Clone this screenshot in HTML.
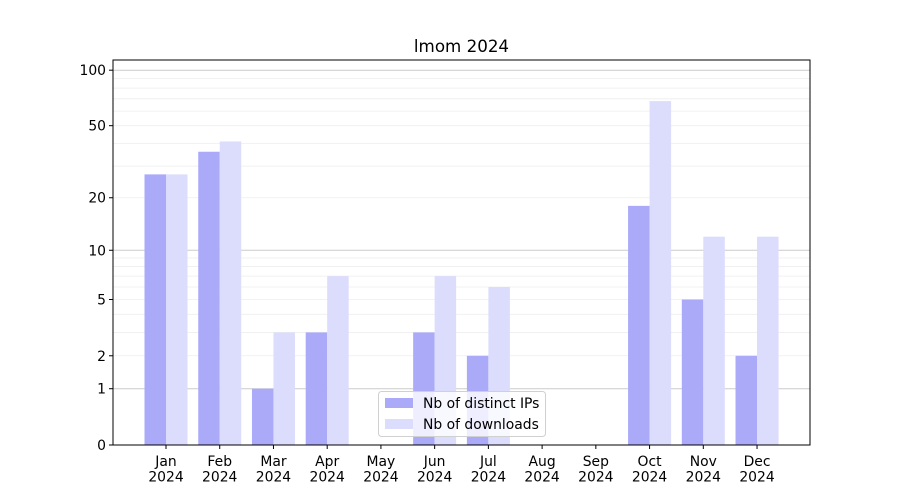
<!DOCTYPE html>
<html><head><meta charset="utf-8"><style>
body{margin:0;background:#fff;}
svg{display:block;font-family:"DejaVu Sans","Liberation Sans",sans-serif;}
</style></head><body>
<svg id="chart" width="900" height="500"></svg>
<script>
const months = ["Jan","Feb","Mar","Apr","May","Jun","Jul","Aug","Sep","Oct","Nov","Dec"];
const ipValues = [27,36,1,3,0,3,2,0,0,18,5,2];
const downloadValues = [27,41,3,7,0,7,6,0,0,68,12,12];
const tickValues = [0,1,2,5,10,20,50,100];
const minorGrid = [2,3,4,5,6,7,8,9,20,30,40,50,60,70,80,90];
const majorGrid = [1,10,100];

const NS="http://www.w3.org/2000/svg";
const svg=document.getElementById('chart');
const L=113,R=810,T=60,B=445;
function y(v){return B-187*Math.log10(v+1);}
function xc(i){return 166+i*53.73;}
function el(tag,attrs,parent){const e=document.createElementNS(NS,tag);for(const k in attrs)e.setAttribute(k,attrs[k]);(parent||svg).appendChild(e);return e;}

minorGrid.forEach(v=>{
  const g=el('line',{x1:L,x2:R,y1:y(v),y2:y(v),stroke:'#eeeeee','stroke-width':0.8});
  
  
});
majorGrid.forEach(v=>{
  const g=el('line',{x1:L,x2:R,y1:y(v),y2:y(v),stroke:'#cccccc','stroke-width':1});
  
  
});

const bw=21.5;
months.forEach((m,i)=>{
  const a=ipValues[i], b=downloadValues[i];
  const r1=el('rect',{x:xc(i)-bw,y:y(a),width:bw,height:B-y(a),fill:'#aaaaf9'});
  
  
  const r2=el('rect',{x:xc(i),y:y(b),width:bw,height:B-y(b),fill:'#dcdcfd'});
  
  
  el('line',{x1:xc(i),x2:xc(i),y1:B,y2:B+4,stroke:'#000'});
  const t=el('text',{x:xc(i),y:B+21,'text-anchor':'middle','font-size':13.9});
  
  
  const s1=el('tspan',{x:xc(i)},t);s1.textContent=m;
  const s2=el('tspan',{x:xc(i),dy:15.5},t);s2.textContent='2024';
});

tickValues.forEach(v=>{
  el('line',{x1:L-4,x2:L,y1:y(v),y2:y(v),stroke:'#000'});
  const t=el('text',{x:L-7,y:y(v)+5,'text-anchor':'end','font-size':13.9});
  
  
  t.textContent=v;
});

const frame=el('rect',{x:L,y:T,width:R-L,height:B-T,fill:'none',stroke:'#000','stroke-width':1});



const title=el('text',{x:(L+R)/2,y:52,'text-anchor':'middle','font-size':16.7});


title.textContent='lmom 2024';

const lg=el('g',{});


el('rect',{x:378.5,y:391.5,width:167,height:45,rx:3,fill:'#fff','fill-opacity':0.8,stroke:'#d0d0d0'},lg);
el('rect',{x:385,y:398,width:28,height:10,fill:'#aaaaf9'},lg);
el('rect',{x:385,y:419,width:28,height:10,fill:'#dcdcfd'},lg);
const l1=el('text',{x:423,y:408,'font-size':13.9},lg);l1.textContent='Nb of distinct IPs';


const l2=el('text',{x:423,y:429,'font-size':13.9},lg);l2.textContent='Nb of downloads';


</script>
</body></html>
